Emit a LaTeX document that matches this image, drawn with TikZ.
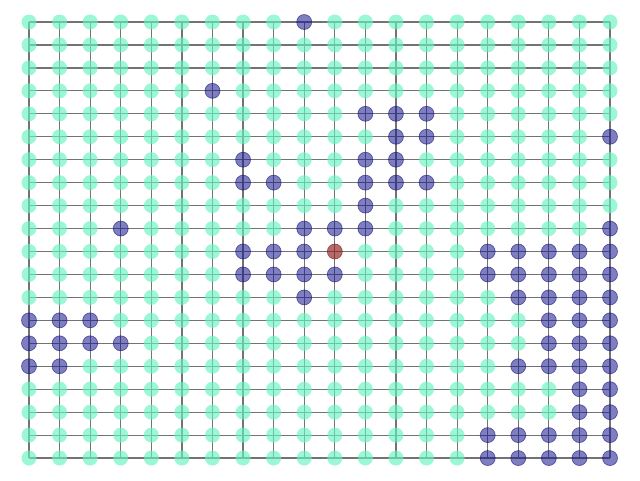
\documentclass[tikz,border=0pt]{standalone}
\usetikzlibrary{backgrounds}
\definecolor{lightfill}{RGB}{102,242,192}
\definecolor{darkfill}{RGB}{20,20,140}
\definecolor{darkline}{RGB}{20,20,120}
\definecolor{redfill}{RGB}{142,28,28}
\definecolor{redline}{RGB}{120,20,20}
\definecolor{edgegray}{RGB}{115,115,115}
\tikzset{
  edgeline/.style={draw=edgegray, line width=1.2pt},
  lightnode/.style={circle, minimum size=15pt, inner sep=0pt, fill=lightfill, fill opacity=0.65},
  darknode/.style={circle, minimum size=15pt, inner sep=0pt, fill=darkfill, fill opacity=0.55, draw=darkline, draw opacity=0.6, line width=0.7pt},
  rednode/.style={circle, minimum size=15pt, inner sep=0pt, fill=redfill, fill opacity=0.65, draw=redline, draw opacity=0.6, line width=0.7pt},
}
\def\markdark#1/#2{\expandafter\gdef\csname isdark-#1-#2\endcsname{}}
\begin{document}
\begin{tikzpicture}[x=1pt,y=-1pt]
\useasboundingbox (0,0) rectangle (640,480);
% dark nodes (col/row)
\foreach \cc/\rr in {9/0,6/3,11/4,12/4,13/4,12/5,13/5,19/5,7/6,11/6,12/6,
  7/7,8/7,11/7,12/7,13/7,11/8,3/9,9/9,10/9,11/9,19/9,
  7/10,8/10,9/10,15/10,16/10,17/10,18/10,19/10,
  7/11,8/11,9/11,10/11,15/11,16/11,17/11,18/11,19/11,
  9/12,16/12,17/12,18/12,19/12,
  0/13,1/13,2/13,17/13,18/13,19/13,
  0/14,1/14,2/14,3/14,17/14,18/14,19/14,
  0/15,1/15,16/15,17/15,18/15,19/15,
  18/16,19/16,18/17,19/17,
  15/18,16/18,17/18,18/18,19/18,
  15/19,16/19,17/19,18/19,19/19}
  {\markdark{\cc}/{\rr}}
% nodes
\foreach \i in {0,...,19}
  \foreach \j in {0,...,19}{
    \ifcsname isdark-\i-\j\endcsname\def\st{darknode}\else\def\st{lightnode}\fi
    \ifnum\i=10 \ifnum\j=10 \def\st{rednode}\fi\fi
    \node[\st] (n-\i-\j) at ({29+30.58*\i},{22+22.95*\j}) {};
  }
% edges
\begin{scope}[on background layer]
\foreach \i in {0,...,19}
  \foreach \j in {0,...,18}{
    \pgfmathtruncatemacro{\jn}{\j+1}
    \draw[edgeline] (n-\i-\j.center) -- (n-\i-\jn.center);
  }
\foreach \j in {0,...,19}
  \foreach \i in {0,...,18}{
    \pgfmathtruncatemacro{\inx}{\i+1}
    \draw[edgeline] (n-\i-\j.center) -- (n-\inx-\j.center);
  }
\end{scope}
\end{tikzpicture}
\end{document}
